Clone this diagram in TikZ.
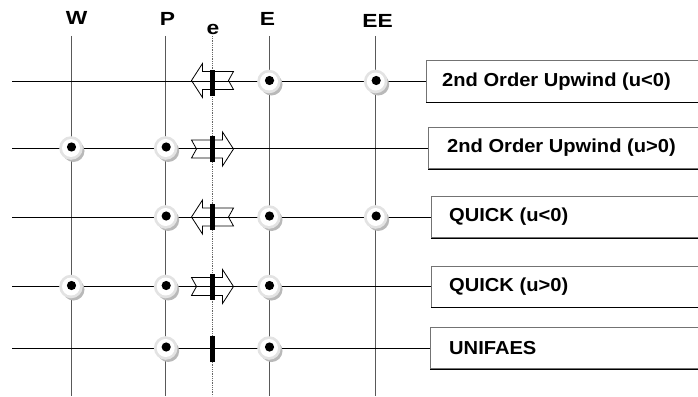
\documentclass[tikz,border=0pt]{standalone}
\usepackage{fontspec}
\setmainfont{Liberation Sans}
\begin{document}
\begin{tikzpicture}[x=1pt,y=-1pt,
  gridline/.style={line width=0.8pt, black!65},
  rowline/.style={line width=0.8pt, black},
  faceline/.style={line width=0.8pt, black!60, densely dotted},
  scheme/.style={draw=black!55, line width=1pt, minimum height=41pt,
    minimum width=300pt, anchor=west, inner sep=0pt},
  schemetext/.style={anchor=west, inner sep=0pt,
    font=\fontsize{18.8}{20}\selectfont\bfseries},
  gridlabel/.style={anchor=base, inner sep=0pt,
    font=\fontsize{19}{20}\selectfont\bfseries},
  cellnode/.pic={
    \fill[gray!55] (2.5,3) circle[radius=11];
    \fill[gray!22] (0,0) circle[radius=11.8];
    \fill[white] (0,0) circle[radius=9];
    \fill[black] (0.5,-1) circle[radius=4.6];
  },
  fluxarrow/.pic={
    \draw[line width=0.8pt] (-21,-9) -- (10,-9) -- (10,-17) -- (21,0)
      -- (10,17) -- (10,9) -- (-21,9) -- (-16,0) -- cycle;
  },
  facebar/.pic={\fill[black] (-2.6,-13) rectangle (2.6,13);}
]
\useasboundingbox (0,0) rectangle (698,396);

% grid line labels
\node[gridlabel] (lW)  at (76.7,25)  {\scalebox{1.2}[1]{W}};
\node[gridlabel] (lP)  at (167.5,26) {\scalebox{1.2}[1]{P}};
\node[gridlabel] (le)  at (213,35)   {\scalebox{1.2}[1]{e}};
\node[gridlabel] (lE)  at (267.5,26) {\scalebox{1.2}[1]{E}};
\node[gridlabel] (lEE) at (377.5,28) {\scalebox{1.2}[1]{EE}};

% vertical grid lines and the face line
\foreach \n/\x in {W/71,P/165.7,E/269,EE/375.7}{
  \coordinate (t\n) at (\x,36);
  \coordinate (b\n) at (\x,396);
  \draw[gridline] (t\n) -- (b\n);
}
\coordinate (te) at (212.5,36);
\coordinate (be) at (212.5,396);
\draw[faceline] (te) -- (be);

% scheme boxes
\node[scheme] (s1) at (426,81.5) {};
\node[scheme] (s2) at (428,148) {};
\node[scheme] (s3) at (431,217) {};
\node[scheme] (s4) at (431,286.5) {};
\node[scheme] (s5) at (430,348) {};
\foreach \s in {s1,s2,s3,s4,s5}{
  \draw[black, line width=1pt] (\s.south west) -- (\s.south east);
}
\node[schemetext] (t1) at (442,81.5) {\scalebox{1.07}[1]{2nd Order Upwind (u<0)}};
\node[schemetext] (t2) at (447,148)  {\scalebox{1.07}[1]{2nd Order Upwind (u>0)}};
\node[schemetext] (t3) at (449,217)  {\scalebox{1.07}[1]{QUICK (u<0)}};
\node[schemetext] (t4) at (449,286.5){\scalebox{1.07}[1]{QUICK (u>0)}};
\node[schemetext] (t5) at (449,348)  {\scalebox{1.07}[1]{UNIFAES}};

% horizontal rows, each running into its scheme box
\foreach \r/\y in {1/81.5,2/148,3/217,4/286.5,5/348}{
  \coordinate (r\r) at (12,\y);
  \draw[rowline] (r\r) -- (s\r.west);
}

% convection direction at the face
\pic[xscale=-1] (a1) at (212.5,80.5)  {fluxarrow};
\pic            (a2) at (212.5,149)   {fluxarrow};
\pic[xscale=-1] (a3) at (212.5,217)   {fluxarrow};
\pic            (a4) at (212.5,286.5) {fluxarrow};

% face markers
\foreach \r/\y in {1/83,2/149,3/217,4/286.5,5/349}{
  \pic (f\r) at (212.5,\y) {facebar};
}

% nodal points used by each scheme
\pic (n1E)  at (269,81.5)    {cellnode};
\pic (n1EE) at (375.7,81.5)  {cellnode};
\pic (n2W)  at (71,148)      {cellnode};
\pic (n2P)  at (165.7,148)   {cellnode};
\pic (n3P)  at (165.7,217)   {cellnode};
\pic (n3E)  at (269,217)     {cellnode};
\pic (n3EE) at (375.7,217)   {cellnode};
\pic (n4W)  at (71,286.5)    {cellnode};
\pic (n4P)  at (165.7,286.5) {cellnode};
\pic (n4E)  at (269,286.5)   {cellnode};
\pic (n5P)  at (165.7,348)   {cellnode};
\pic (n5E)  at (269,348)     {cellnode};
\end{tikzpicture}
\end{document}
